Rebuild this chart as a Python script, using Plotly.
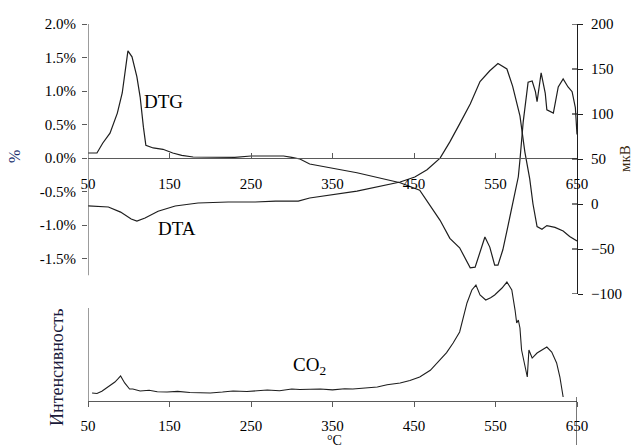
import plotly.graph_objects as go

# ---------------- data ----------------
dtg_T = [50, 61, 68, 77, 86, 92, 99, 104, 110, 114, 118, 121, 130, 142, 154, 165, 179,
         200, 230, 250, 270, 290, 300, 310, 322, 380, 433, 457, 482, 494, 506, 519, 525,
         531, 537, 543, 549, 553, 559, 565, 571, 578, 580, 584, 590, 595, 599, 601, 606,
         611, 613, 617, 621, 627, 633, 639, 644, 648, 650]
dtg_pct = [0.075, 0.075, 0.22, 0.37, 0.67, 0.97, 1.6, 1.51, 1.21, 0.91, 0.46, 0.19, 0.15,
           0.13, 0.075, 0.04, 0.015, 0.01, 0.01, 0.03, 0.035, 0.03, 0.01, -0.015, -0.09,
           -0.22, -0.37, -0.48, -0.93, -1.2, -1.34, -1.64, -1.63, -1.42, -1.18, -1.33,
           -1.6, -1.6, -1.37, -1.03, -0.67, -0.28, -0.03, 0.54, 1.13, 1.15, 0.99, 0.84,
           1.27, 0.97, 0.72, 0.69, 0.67, 1.06, 1.18, 1.06, 0.99, 0.75, 0.35]

dta_T = [50, 62, 75, 90, 103, 110, 120, 136, 157, 185, 222, 255, 280, 308, 322, 380, 433,
         451, 466, 482, 494, 506, 519, 531, 543, 553, 564, 571, 580, 586, 592, 596, 601,
         607, 613, 623, 633, 641, 650]
dta_uv = [-2, -2.5, -3.3, -9, -16.7, -19, -15.6, -8, -2.2, 1.1, 2.2, 2.2, 3.3, 3.3, 6.7,
          14.4, 24.4, 30, 38, 51, 69, 89, 111, 136, 148, 156, 150, 131, 98, 58, 28, 0,
          -25, -28, -24, -26, -30, -36, -41]

co2_T = [55, 61, 67, 73, 78, 83, 87, 90, 95, 101, 105, 114, 125, 135, 147, 160, 175, 187,
         200, 215, 228, 245, 260, 270, 285, 300, 310, 322, 335, 350, 365, 375, 390, 405,
         417, 433, 445, 457, 470, 482, 490, 498, 506, 515, 521, 526, 531, 538, 544, 549,
         558, 564, 570, 574, 576, 578, 580, 582, 584, 589, 591, 595, 601, 607, 613, 619,
         625, 629, 633]
co2_int = [8.6, 8.0, 10.5, 14, 17, 20.4, 24, 26.9, 19.4, 12.9, 12.9, 10.8, 11.5, 10.0,
           9.7, 10.3, 9.2, 8.6, 8.6, 9.6, 10.8, 10.2, 11.3, 11.8, 11.0, 12.9, 12.3, 12.9,
           12.9, 12.0, 13.2, 12.9, 14.0, 15.1, 17.5, 19.4, 22, 25.8, 33, 44.1, 52, 62.4,
           74.2, 105.4, 119.4, 124.7, 114, 108.6, 111, 114, 121.5, 127.9, 119.4, 97.8,
           83.9, 87.1, 78.5, 54.8, 46.2, 25.8, 54.8, 46.2, 51.6, 55, 58, 52.7, 40.9,
           25.8, 4.3]

x_ticks = [50, 150, 250, 350, 450, 550, 650]
left_ticks = [-1.5, -1.0, -0.5, 0.0, 0.5, 1.0, 1.5, 2.0]
left_labels = ["%.1f%%" % v for v in left_ticks]
right_ticks = [-100, -50, 0, 50, 100, 150, 200]

# ---------------- geometry (px of the 635x448 page) ----------------
W, H = 635, 448
L, R, T, B = 88, 577, 24, 401
pw, ph = R - L, B - T


def py(p):
    return (B - p) / ph


def px(p):
    return (p - L) / pw


FONT = "Liberation Serif"
LINE = "#1e1e1e"
AX = "#5a5a5a"

fig = go.Figure()
fig.add_trace(go.Scatter(x=dtg_T, y=dtg_pct, mode="lines", xaxis="x", yaxis="y",
                         line=dict(color=LINE, width=1.2), name="DTG"))
fig.add_trace(go.Scatter(x=dta_T, y=dta_uv, mode="lines", xaxis="x", yaxis="y2",
                         line=dict(color=LINE, width=1.2), name="DTA"))
fig.add_trace(go.Scatter(x=co2_T, y=co2_int, mode="lines", xaxis="x2", yaxis="y3",
                         line=dict(color=LINE, width=1.1), name="CO2"))

tickfont = dict(family=FONT, size=15, color="black")
top_dom = [py(294), 1.0]
# left axis: 2.0% at px 24, 0% at px 158
ppu = (158 - 24) / 2.0
left_min = 2.0 - (294 - 24) / ppu

fig.update_layout(
    width=W, height=H,
    margin=dict(l=L, r=W - R, t=T, b=H - B),
    paper_bgcolor="white", plot_bgcolor="rgba(0,0,0,0)",
    showlegend=False,
    font=dict(family=FONT),
    xaxis=dict(domain=[0, 1], range=[50, 650], anchor="free", position=py(158),
               tickvals=x_ticks, ticks="inside", ticklen=5, tickcolor=AX,
               showline=True, linecolor=AX, linewidth=1.2, showgrid=False,
               zeroline=False, tickfont=tickfont, ticklabelstandoff=12),
    yaxis=dict(domain=top_dom, range=[left_min, 2.0001], anchor="x",
               tickvals=left_ticks, ticktext=left_labels, ticks="outside",
               ticklen=5, tickcolor=AX, showline=False, showgrid=False,
               zeroline=False, tickfont=tickfont, ticklabelstandoff=3),
    yaxis2=dict(overlaying="y", side="right", anchor="x", range=[-100, 200],
                tickvals=right_ticks, ticks="outside", ticklen=5, tickcolor=LINE,
                showline=True, linecolor=LINE, linewidth=1.2, showgrid=False,
                zeroline=False, tickfont=tickfont, ticklabelstandoff=5),
    xaxis2=dict(domain=[0, 1], range=[50, 650], anchor="y3", tickvals=x_ticks,
                ticks="outside", ticklen=5, tickcolor=AX, showline=True,
                linecolor=AX, linewidth=1.2, showgrid=False, zeroline=False,
                tickfont=tickfont, ticklabelstandoff=6),
    yaxis3=dict(domain=[0, py(270)], range=[0, (B - 270) / ((B - 308) / 100.0)],
                anchor="x2", showticklabels=False, ticks="", showline=False,
                showgrid=False, zeroline=False),
)

shapes = []
# left axis line of the upper panel (stops at -1.75 %)
shapes.append(dict(type="line", xref="x", yref="y", x0=50, x1=50, y0=-1.75, y1=2.0,
                   line=dict(color=AX, width=1.2)))
# inner halves of the crossing ticks on the right axis
for v in right_ticks:
    shapes.append(dict(type="line", xref="paper", yref="y2", x0=1 - 5 / pw, x1=1,
                       y0=v, y1=v, line=dict(color=LINE, width=1.2)))
# left axis line of the lower panel
shapes.append(dict(type="line", xref="x2", yref="y3", x0=50, x1=50, y0=0, y1=100,
                   line=dict(color=AX, width=1.2)))
# long tick at 650 of the lower axis
shapes.append(dict(type="line", xref="x2", yref="paper", x0=650, x1=650,
                   y0=py(397), y1=py(445), line=dict(color=LINE, width=1.2)))
fig.update_layout(shapes=shapes)

ann = [
    dict(text="%", x=px(15), y=py(157), textangle=-90, font=dict(size=16, color="#1c2f6e")),
    dict(text="мкВ", x=px(625), y=py(159), textangle=-90, font=dict(size=15, color="#3a2a10")),
    dict(text="Интенсивность", x=px(57), y=py(368), textangle=-90,
         font=dict(size=18, color="#1a1a3a")),
    dict(text="°C", x=px(334), y=py(441), font=dict(size=14, color="black")),
    dict(text="DTG", x=px(163), y=py(101), font=dict(size=19, color="black")),
    dict(text="DTA", x=px(177), y=py(229), font=dict(size=19, color="black")),
    dict(text="CO<sub>2</sub>", x=px(309), y=py(366), font=dict(size=19, color="black")),
]
for a in ann:
    a.update(xref="paper", yref="paper", showarrow=False, xanchor="center",
             yanchor="middle")
    a["font"]["family"] = FONT
fig.update_layout(annotations=ann)

fig.write_html("out.html")
